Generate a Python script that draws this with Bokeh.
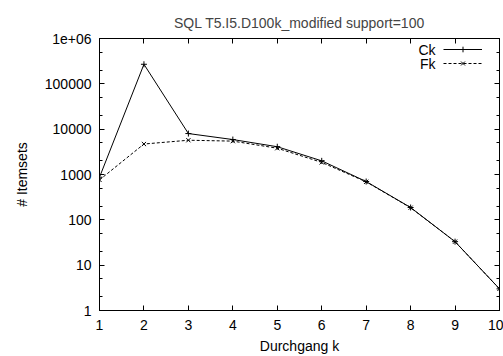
from bokeh.plotting import figure
from bokeh.models import (Range1d, FixedTicker, LinearAxis, LogAxis, Legend,
                          LegendItem, Label, ColumnDataSource, CustomLabelingPolicy)
from bokeh.embed import file_html
from bokeh.resources import INLINE

# ---- data ----
k = [1, 2, 3, 4, 5, 6, 7, 8, 9, 10]
ck = [870, 270000, 8000, 5900, 4100, 2000, 700, 187, 33, 3]
fk = [760, 4700, 5700, 5450, 3800, 1850, 690, 185, 33, 3]
series_names = ["Ck", "Fk"]
x_ticks = [1, 2, 3, 4, 5, 6, 7, 8, 9, 10]
y_ticks = [1, 10, 100, 1000, 10000, 100000, 1000000]
y_tick_labels = ["1", "10", "100", "1000", "10000", "100000", "1e+06"]
y_minor = [m * t for t in y_ticks[:-1] for m in (2, 5)]

FONT = "Liberation Sans"

p = figure(width=503, height=356, output_backend="svg", toolbar_location=None,
           y_axis_type="log",
           x_range=Range1d(1, 10), y_range=Range1d(1, 1e6),
           min_border_left=99, min_border_right=4, min_border_top=38,
           min_border_bottom=45,
           title="SQL T5.I5.D100k_modified support=100")
p.title.text_font = FONT
p.title.text_font_size = "14px"
p.title.text_font_style = "normal"
p.title.align = "center"
p.title.standoff = 8

p.xgrid.visible = False
p.ygrid.visible = False
p.outline_line_color = "black"
p.outline_line_width = 1
p.background_fill_color = "white"
p.border_fill_color = "white"

xt = FixedTicker(ticks=x_ticks, minor_ticks=[])
yt = FixedTicker(ticks=y_ticks, minor_ticks=y_minor)

def style(ax, labels=True):
    ax.axis_line_color = "black"
    ax.major_tick_line_color = "black"
    ax.minor_tick_line_color = "black"
    ax.major_tick_in = 5
    ax.major_tick_out = 0
    ax.minor_tick_in = 3
    ax.minor_tick_out = 0
    ax.major_label_text_font = FONT
    ax.major_label_text_color = "black"
    ax.major_label_text_font_size = "14px"
    ax.axis_label_text_font = FONT
    ax.axis_label_text_font_style = "normal"
    ax.axis_label_text_font_size = "14px"
    ax.axis_label_text_color = "black"
    if not labels:
        ax.major_label_standoff = 0
        ax.major_label_text_font_size = "1px"
        ax.major_label_policy = CustomLabelingPolicy(code="return []")

xa = p.xaxis[0]
xa.ticker = xt
style(xa)
xa.axis_label = "Durchgang k"
xa.major_label_standoff = 9
xa.axis_label_standoff = 5

ya = p.yaxis[0]
ya.ticker = yt
style(ya)
ya.axis_label = "# Itemsets"
ya.major_label_standoff = 8
ya.axis_label_standoff = 12
ya.major_label_overrides = {t: s for t, s in zip(y_ticks, y_tick_labels)}

top = LinearAxis(ticker=xt)
style(top, labels=False)
p.add_layout(top, "above")
right = LogAxis(ticker=yt)
style(right, labels=False)
p.add_layout(right, "right")

src = ColumnDataSource(dict(k=k, ck=ck, fk=fk))
l1 = p.line("k", "ck", source=src, line_color="black", line_width=1)
m1 = p.scatter("k", "ck", source=src, marker="cross", size=6,
               line_color="black", line_width=1)
l2 = p.line("k", "fk", source=src, line_color="black", line_width=1,
            line_dash="3 2")
m2 = p.scatter("k", "fk", source=src, marker="x", size=6,
               line_color="black", line_width=1)

legend = Legend(items=[LegendItem(label=" ", renderers=[l1, m1]),
                       LegendItem(label=" ", renderers=[l2, m2])],
                location=(344, 240), orientation="vertical",
                glyph_width=39, glyph_height=14, label_width=0,
                label_standoff=0, padding=0, spacing=0, margin=0,
                border_line_color=None, background_fill_alpha=0,
                label_text_font_size="2px")
p.add_layout(legend)

for i, name in enumerate(series_names):
    p.add_layout(Label(x=336, y=261 - 14 * i, x_units="screen", y_units="screen",
                       text=name, text_font=FONT, text_font_size="14px",
                       text_align="right", text_baseline="middle",
                       text_color="black"))

open("out.html", "w").write(file_html(p, INLINE))
